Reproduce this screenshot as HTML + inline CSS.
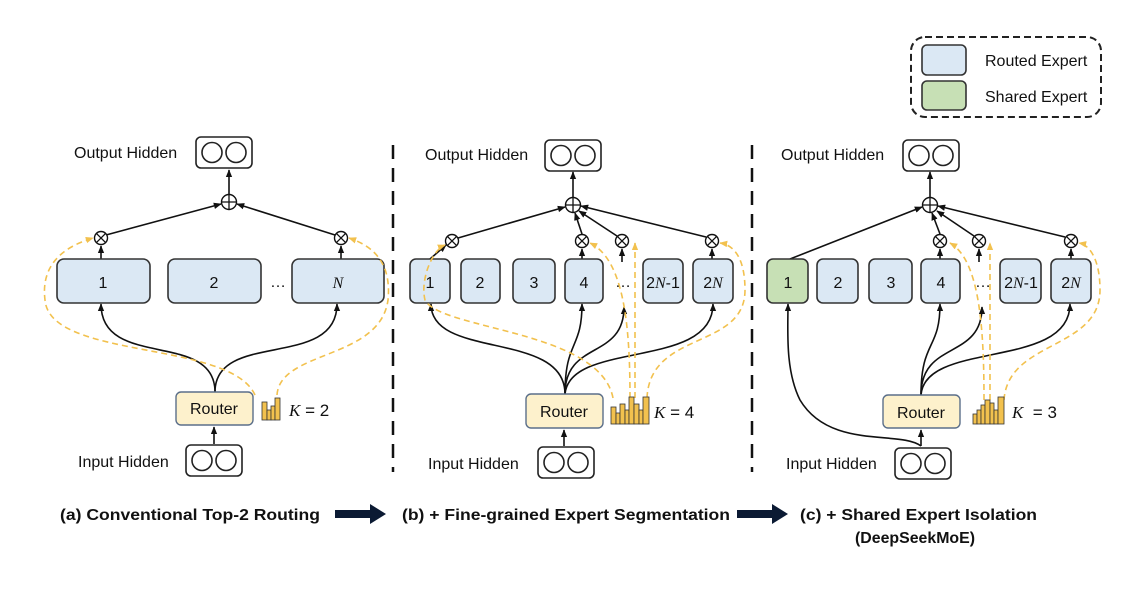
<!DOCTYPE html>
<html><head><meta charset="utf-8"><style>
html,body{margin:0;padding:0;background:#fff}
svg{display:block}
text{font-family:"Liberation Sans",sans-serif;fill:#111}
.e{fill:#dbe8f4;stroke:#333;stroke-width:1.6}
.g{fill:#c7e0b5;stroke:#333;stroke-width:1.6}
.r{fill:#fdf1cc;stroke:#5b6f8a;stroke-width:1.4}
.b{fill:#fff;stroke:#222;stroke-width:1.6}
.l{fill:none;stroke:#111;stroke-width:1.6}
.y{fill:none;stroke:#f2c14e;stroke-width:1.6;stroke-dasharray:6 4}
.c{fill:#fff;stroke:#111;stroke-width:1.4}
.lab{font-size:16px}
.num{font-size:16px;text-anchor:middle}
.it{font-family:"Liberation Serif",serif;font-style:italic}
.cap{font-size:16px;font-weight:bold}
</style></head><body>
<svg width="1144" height="594" viewBox="0 0 1144 594" xmlns="http://www.w3.org/2000/svg">
<defs>
<marker id="a" viewBox="0 0 10 10" refX="9" refY="5" markerWidth="5" markerHeight="5" orient="auto"><path d="M0,1 L10,5 L0,9z" fill="#111"/></marker>
<marker id="ay" viewBox="0 0 10 10" refX="9" refY="5" markerWidth="5" markerHeight="5" orient="auto"><path d="M0,1 L10,5 L0,9z" fill="#f2c14e"/></marker>
<g id="hid"><rect x="0" y="0" width="56" height="31" rx="5" class="b"/><circle cx="16" cy="15.5" r="10" class="b"/><circle cx="40" cy="15.5" r="10" class="b"/></g>
<g id="plus"><circle r="7.5" class="c"/><path d="M-7.5,0H7.5M0,-7.5V7.5" stroke="#111" stroke-width="1.3"/></g>
<g id="tim"><circle r="6.5" class="c"/><path d="M-4.6,-4.6L4.6,4.6M4.6,-4.6L-4.6,4.6" stroke="#111" stroke-width="1.3"/></g>
</defs>

<!-- dividers -->
<line x1="393" y1="145" x2="393" y2="472" stroke="#111" stroke-width="2.5" stroke-dasharray="14 9"/>
<line x1="752" y1="145" x2="752" y2="472" stroke="#111" stroke-width="2.5" stroke-dasharray="14 9"/>

<!-- legend -->
<rect x="911" y="37" width="190" height="80" rx="14" fill="none" stroke="#222" stroke-width="2" stroke-dasharray="7 4"/>
<rect x="922" y="45" width="44" height="30" rx="5" class="e"/>
<rect x="922" y="81" width="44" height="29" rx="5" class="g"/>
<text x="985" y="66" class="lab" font-size="15">Routed Expert</text>
<text x="985" y="102" class="lab" font-size="15">Shared Expert</text>

<!-- ===== Panel a ===== -->
<text x="74" y="158" class="lab">Output Hidden</text>
<use href="#hid" x="196" y="137"/>
<line x1="229" y1="195" x2="229" y2="170" class="l" marker-end="url(#a)"/>
<line x1="106" y1="235" x2="221" y2="204" class="l" marker-end="url(#a)"/>
<line x1="335" y1="235" x2="237" y2="204" class="l" marker-end="url(#a)"/>
<use href="#plus" x="229" y="202"/>
<use href="#tim" x="101" y="238"/><use href="#tim" x="341" y="238"/>
<line x1="101" y1="259" x2="101" y2="246" class="l" marker-end="url(#a)"/>
<line x1="341" y1="259" x2="341" y2="246" class="l" marker-end="url(#a)"/>
<rect x="57" y="259" width="93" height="44" rx="7" class="e"/>
<rect x="168" y="259" width="93" height="44" rx="7" class="e"/>
<rect x="292" y="259" width="92" height="44" rx="7" class="e"/>
<text x="103" y="288" class="num">1</text><text x="214" y="288" class="num">2</text>
<text x="278" y="287" class="num">…</text><text x="338" y="288" class="num it">N</text>
<path d="M215,392 C215,330 101,370 101,304" class="l" marker-end="url(#a)"/>
<path d="M215,392 C215,330 337,370 337,304" class="l" marker-end="url(#a)"/>
<path d="M255,395 C230,340 50,360 45,300 C40,260 70,245 93,238" class="y" marker-end="url(#ay)"/>
<path d="M277,395 C280,350 380,360 388,300 C392,260 370,245 349,238" class="y" marker-end="url(#ay)"/>
<rect x="176" y="392" width="77" height="33" rx="5" class="r"/>
<text x="214" y="414" class="num">Router</text>
<g fill="#f2c14e" stroke="#333" stroke-width="0.8"><rect x="262" y="402" width="5" height="18"/><rect x="267" y="410" width="4" height="10"/><rect x="271" y="406" width="4" height="14"/><rect x="275" y="398" width="5" height="22"/></g>
<text x="289" y="416" font-size="17"><tspan class="it">K</tspan> = 2</text>
<line x1="214" y1="444" x2="214" y2="427" class="l" marker-end="url(#a)"/>
<text x="78" y="467" class="lab">Input Hidden</text>
<use href="#hid" x="186" y="445"/>

<!-- ===== Panel b ===== -->
<text x="425" y="160" class="lab">Output Hidden</text>
<use href="#hid" x="545" y="140"/>
<line x1="573" y1="198" x2="573" y2="172" class="l" marker-end="url(#a)"/>
<line x1="458" y1="238" x2="565" y2="207" class="l" marker-end="url(#a)"/>
<line x1="582" y1="234" x2="575" y2="213" class="l" marker-end="url(#a)"/>
<line x1="617" y1="236" x2="579" y2="211" class="l" marker-end="url(#a)"/>
<line x1="706" y1="237" x2="581" y2="206" class="l" marker-end="url(#a)"/>
<use href="#plus" x="573" y="205"/>
<use href="#tim" x="452" y="241"/><use href="#tim" x="582" y="241"/><use href="#tim" x="622" y="241"/><use href="#tim" x="712" y="241"/>
<line x1="430" y1="259" x2="446" y2="245" class="l" marker-end="url(#a)"/>
<line x1="582" y1="259" x2="582" y2="249" class="l" marker-end="url(#a)"/>
<line x1="622" y1="262" x2="622" y2="249" class="l" marker-end="url(#a)"/>
<line x1="712" y1="259" x2="712" y2="249" class="l" marker-end="url(#a)"/>
<rect x="410" y="259" width="40" height="44" rx="6" class="e"/>
<rect x="461" y="259" width="39" height="44" rx="6" class="e"/>
<rect x="513" y="259" width="42" height="44" rx="6" class="e"/>
<rect x="565" y="259" width="38" height="44" rx="6" class="e"/>
<rect x="643" y="259" width="40" height="44" rx="6" class="e"/>
<rect x="693" y="259" width="40" height="44" rx="6" class="e"/>
<text x="430" y="288" class="num">1</text><text x="480" y="288" class="num">2</text><text x="534" y="288" class="num">3</text><text x="584" y="288" class="num">4</text>
<text x="623" y="287" class="num">…</text>
<text x="663" y="288" class="num">2<tspan class="it">N</tspan>-1</text><text x="713" y="288" class="num">2<tspan class="it">N</tspan></text>
<path d="M565,394 C565,330 431,360 431,304" class="l" marker-end="url(#a)"/>
<path d="M565,394 C565,340 582,350 582,304" class="l" marker-end="url(#a)"/>
<path d="M565,394 C565,340 624,360 624,307" class="l" marker-end="url(#a)"/>
<path d="M565,394 C570,340 713,370 713,304" class="l" marker-end="url(#a)"/>
<path d="M613,398 C600,330 440,330 425,300 C420,280 432,250 445,245" class="y" marker-end="url(#ay)"/>
<path d="M630,398 C630,330 625,260 590,243" class="y" marker-end="url(#ay)"/>
<path d="M635,398 L635,243" class="y" marker-end="url(#ay)"/>
<path d="M647,398 C650,330 745,350 745,290 C745,260 735,245 720,243" class="y" marker-end="url(#ay)"/>
<rect x="526" y="394" width="77" height="34" rx="5" class="r"/>
<text x="564" y="417" class="num">Router</text>
<g fill="#f2c14e" stroke="#333" stroke-width="0.8"><rect x="611" y="407" width="5" height="17"/><rect x="616" y="413" width="4" height="11"/><rect x="620" y="404" width="5" height="20"/><rect x="625" y="410" width="4" height="14"/><rect x="629" y="397" width="5" height="27"/><rect x="634" y="404" width="5" height="20"/><rect x="639" y="410" width="4" height="14"/><rect x="643" y="397" width="6" height="27"/></g>
<text x="654" y="418" font-size="17"><tspan class="it">K</tspan> = 4</text>
<line x1="564" y1="446" x2="564" y2="430" class="l" marker-end="url(#a)"/>
<text x="428" y="469" class="lab">Input Hidden</text>
<use href="#hid" x="538" y="447"/>

<!-- ===== Panel c ===== -->
<text x="781" y="160" class="lab">Output Hidden</text>
<use href="#hid" x="903" y="140"/>
<line x1="930" y1="198" x2="930" y2="172" class="l" marker-end="url(#a)"/>
<line x1="790" y1="259" x2="922" y2="207" class="l" marker-end="url(#a)"/>
<line x1="940" y1="234" x2="932" y2="213" class="l" marker-end="url(#a)"/>
<line x1="974" y1="236" x2="937" y2="211" class="l" marker-end="url(#a)"/>
<line x1="1065" y1="237" x2="938" y2="206" class="l" marker-end="url(#a)"/>
<use href="#plus" x="930" y="205"/>
<use href="#tim" x="940" y="241"/><use href="#tim" x="979" y="241"/><use href="#tim" x="1071" y="241"/>
<line x1="940" y1="259" x2="940" y2="249" class="l" marker-end="url(#a)"/>
<line x1="979" y1="262" x2="979" y2="249" class="l" marker-end="url(#a)"/>
<line x1="1071" y1="259" x2="1071" y2="249" class="l" marker-end="url(#a)"/>
<rect x="767" y="259" width="41" height="44" rx="6" class="g"/>
<rect x="817" y="259" width="41" height="44" rx="6" class="e"/>
<rect x="869" y="259" width="43" height="44" rx="6" class="e"/>
<rect x="921" y="259" width="39" height="44" rx="6" class="e"/>
<rect x="1000" y="259" width="41" height="44" rx="6" class="e"/>
<rect x="1051" y="259" width="40" height="44" rx="6" class="e"/>
<text x="788" y="288" class="num">1</text><text x="838" y="288" class="num">2</text><text x="891" y="288" class="num">3</text><text x="941" y="288" class="num">4</text>
<text x="983" y="287" class="num">…</text>
<text x="1021" y="288" class="num">2<tspan class="it">N</tspan>-1</text><text x="1071" y="288" class="num">2<tspan class="it">N</tspan></text>
<path d="M921,446 C900,430 830,450 800,400 C785,370 788,330 788,304" class="l" marker-end="url(#a)"/>
<path d="M921,395 C921,340 940,350 940,304" class="l" marker-end="url(#a)"/>
<path d="M921,395 C921,340 982,360 982,307" class="l" marker-end="url(#a)"/>
<path d="M921,395 C925,340 1070,370 1070,304" class="l" marker-end="url(#a)"/>
<path d="M984,400 C984,330 980,260 950,243" class="y" marker-end="url(#ay)"/>
<path d="M990,400 L990,243" class="y" marker-end="url(#ay)"/>
<path d="M1004,400 C1008,340 1100,350 1100,290 C1100,260 1090,245 1079,243" class="y" marker-end="url(#ay)"/>
<rect x="883" y="395" width="77" height="33" rx="5" class="r"/>
<text x="921" y="418" class="num">Router</text>
<g fill="#f2c14e" stroke="#333" stroke-width="0.8"><rect x="973" y="414" width="4" height="10"/><rect x="977" y="410" width="4" height="14"/><rect x="981" y="405" width="4" height="19"/><rect x="985" y="400" width="5" height="24"/><rect x="990" y="403" width="4" height="21"/><rect x="994" y="410" width="4" height="14"/><rect x="998" y="397" width="6" height="27"/></g>
<text x="1012" y="418" font-size="17"><tspan class="it">K</tspan>&#160; = 3</text>
<line x1="921" y1="446" x2="921" y2="430" class="l" marker-end="url(#a)"/>
<text x="786" y="469" class="lab">Input Hidden</text>
<use href="#hid" x="895" y="448"/>

<!-- captions -->
<text x="60" y="520" class="cap" textLength="260" lengthAdjust="spacingAndGlyphs">(a) Conventional Top-2 Routing</text>
<path d="M335,510 H370 V504 L386,514 L370,524 V518 H335z" fill="#0b1a33"/>
<text x="402" y="520" class="cap" textLength="328" lengthAdjust="spacingAndGlyphs">(b) + Fine-grained Expert Segmentation</text>
<path d="M737,510 H772 V504 L788,514 L772,524 V518 H737z" fill="#0b1a33"/>
<text x="800" y="520" class="cap" textLength="237" lengthAdjust="spacingAndGlyphs">(c) + Shared Expert Isolation</text>
<text x="855" y="543" class="cap" textLength="120" lengthAdjust="spacingAndGlyphs">(DeepSeekMoE)</text>
</svg>
</body></html>
